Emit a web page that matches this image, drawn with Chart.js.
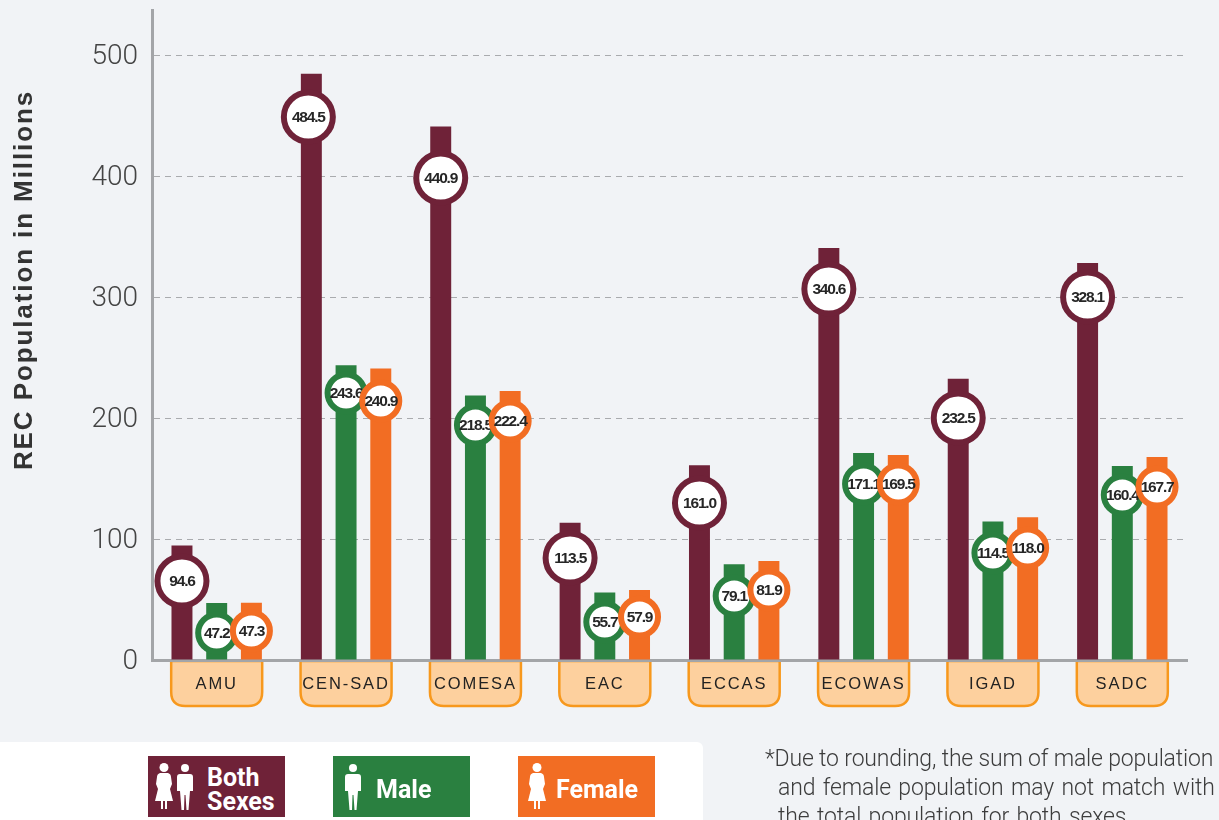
<!DOCTYPE html>
<html><head><meta charset="utf-8">
<style>
html,body{margin:0;padding:0;width:1219px;height:820px;overflow:hidden;background:#f1f3f6}
#wrap{position:relative;width:1219px;height:820px;overflow:hidden}
#panel{position:absolute;left:0;top:742px;width:703px;height:78px;background:#fff;border-top-right-radius:6px}
canvas{position:absolute;left:0;top:0}
.lg{position:absolute;top:756px;width:137px;height:61px;color:#fff;font-family:"Roboto";font-weight:700}
.lg svg{position:absolute;top:7px;height:47px;fill:#fff}
.lg span{position:absolute;white-space:nowrap;font-size:25px;line-height:24px}
.fn{position:absolute;font-family:"Roboto";font-weight:300;font-size:23px;color:#3c3c3c;white-space:nowrap;line-height:28px}
</style></head>
<body><div id="wrap">
<div id="panel"></div>
<canvas id="c" width="1219" height="820"></canvas>
<div class="lg" style="left:148px;background:#6f2238">
 <svg style="left:7px;width:18px" viewBox="0 0 18 47"><use href="#fem"/></svg>
 <svg style="left:28px;width:18px" viewBox="0 0 18 47"><use href="#mal"/></svg>
 <span style="left:59px;top:10px">Both<br>Sexes</span></div>
<div class="lg" style="left:333px;background:#2a8040">
 <svg style="left:11px;width:18px" viewBox="0 0 18 47"><use href="#mal"/></svg>
 <span style="left:43px;top:22px">Male</span></div>
<div class="lg" style="left:518px;background:#f26d23">
 <svg style="left:10px;width:18px" viewBox="0 0 18 47"><use href="#fem"/></svg>
 <span style="left:38px;top:22px">Female</span></div>
<div class="fn" style="left:765px;top:745px;letter-spacing:-.17px">*Due to rounding, the sum of male population</div>
<div class="fn" style="left:778px;top:774px;letter-spacing:-.15px;word-spacing:2px">and female population may not match with</div>
<div class="fn" style="left:778px;top:803px;letter-spacing:-.15px;word-spacing:2px">the total population for both sexes.</div>
<svg width="0" height="0" style="position:absolute"><defs>
 <g id="fem"><circle cx="9" cy="4.5" r="4.5"/><path d="M5 10h8q3 1 3 4l1 7-2 5 3 12h-6v8h-2v-8h-2v8H6v-8H0l3-12-2-5 1-7q0-3 3-4z"/></g>
 <g id="mal"><circle cx="9" cy="5" r="4"/><path d="M4 11h10q3 0 3 3v14h-3l-1.5 19h-2L9.500 32h-1L8 47H5.500L4 28H1V14q0-3 3-3z"/></g>
</defs></svg>
</div>
<script src="https://cdn.jsdelivr.net/npm/chart.js@4"></script>
<script>
const categories = ["AMU","CEN-SAD","COMESA","EAC","ECCAS","ECOWAS","IGAD","SADC"];
const bothSexes = [94.6,484.5,440.9,113.5,161.0,340.6,232.5,328.1];
const maleValues = [47.2,243.6,218.5,55.7,79.1,171.1,114.5,160.4];
const femaleValues = [47.3,240.9,222.4,57.9,81.9,169.5,118.0,167.7];
const yTicks = [0,100,200,300,400,500];
// axis height at which each value badge sits on its bar
const bothBadgeAt = [65.3,448.8,398.3,84.3,129.8,306.6,200,300];
const maleBadgeAt = [22.3,220.7,194.2,31.4,52.9,145.5,88.4,136.4];
const femaleBadgeAt = [24,214,197.5,35.5,57.9,145.5,92.6,143];
const bothBadgeShift = [0,-3,0,0,0,0,0,0];

const badgePlugin = {
  id:'badges',
  beforeDraw(chart){
    const {ctx,scales:{x,y}} = chart;
    ctx.save();
    categories.forEach((c,i)=>{
      const cx = x.getPixelForValue(i), w = 91, t = y.bottom+1, h = 45, r = 14, l = cx-w/2;
      ctx.beginPath();
      ctx.moveTo(l,t); ctx.lineTo(l,t+h-r);
      ctx.quadraticCurveTo(l,t+h,l+r,t+h);
      ctx.lineTo(l+w-r,t+h);
      ctx.quadraticCurveTo(l+w,t+h,l+w,t+h-r);
      ctx.lineTo(l+w,t); ctx.closePath();
      ctx.fillStyle='#fdd09e'; ctx.fill();
      ctx.lineWidth=2.5; ctx.strokeStyle='#f7981d'; ctx.stroke();
    });
    ctx.restore();
    if(!x._tracked){
      const orig = x.drawLabels;
      x.drawLabels = function(a){ctx.letterSpacing='1.9px';orig.call(this,a);ctx.letterSpacing='0px';};
      x._tracked = true;
    }
  },
  afterDatasetsDraw(chart){
    const {ctx,scales:{y}} = chart;
    const specs = [[0,bothBadgeAt,27.5,'#6f2238'],[1,maleBadgeAt,21.5,'#2a8040'],[2,femaleBadgeAt,21.5,'#f26d23']];
    ctx.save();
    specs.forEach(([d,at,r,col])=>{
      const meta = chart.getDatasetMeta(d), vals = chart.data.datasets[d].data;
      meta.data.forEach((bar,i)=>{
        const cx = bar.x + (d===0?bothBadgeShift[i]:0), cy = y.getPixelForValue(at[i]);
        ctx.beginPath(); ctx.arc(cx,cy,r-3,0,Math.PI*2);
        ctx.fillStyle='#fff'; ctx.fill();
        ctx.lineWidth=6; ctx.strokeStyle=col; ctx.stroke();
      });
      meta.data.forEach((bar,i)=>{
        const cx = bar.x + (d===0?bothBadgeShift[i]:0), cy = y.getPixelForValue(at[i]);
        ctx.fillStyle='#262626';
        ctx.font='bold 15.5px "Liberation Sans"';
        ctx.letterSpacing='-1.2px';
        ctx.textAlign='center'; ctx.textBaseline='middle';
        ctx.fillText(vals[i].toFixed(1),cx,cy+1);
      });
    });
    ctx.letterSpacing='0px';
    // vertical axis title
    ctx.translate(32,280); ctx.rotate(-Math.PI/2);
    ctx.fillStyle='#333'; ctx.font='bold 26px "Liberation Sans"';
    ctx.letterSpacing='1.9px';
    ctx.textAlign='center'; ctx.textBaseline='alphabetic';
    ctx.fillText(y.options.title.text,0,0);
    ctx.restore();
  }
};

new Chart(document.getElementById('c'),{
  type:'bar',
  data:{labels:categories,datasets:[
    {label:'Both Sexes',data:bothSexes,backgroundColor:'#6f2238'},
    {label:'Male',data:maleValues,backgroundColor:'#2a8040'},
    {label:'Female',data:femaleValues,backgroundColor:'#f26d23'}
  ]},
  options:{
    responsive:false,animation:false,
    layout:{padding:{top:10,right:32,left:0,bottom:0}},
    categoryPercentage:0.805,
    barPercentage:0.604,
    plugins:{legend:{display:false},tooltip:{enabled:false},title:{display:false}},
    scales:{
      x:{
        afterFit(s){s.height=160;s.paddingLeft=0;s.paddingRight=0;},
        grid:{display:false,drawTicks:false},
        border:{display:true,color:'#a3a5a8',width:3},
        ticks:{padding:15,color:'#222',font:{family:'"Liberation Sans"',size:16.5},maxRotation:0,autoSkip:false}
      },
      y:{
        min:0,max:537.2,
        title:{display:false,text:'REC Population in Millions'},
        afterFit(s){s.width=152;s.paddingTop=0;s.paddingBottom=0;},
        afterBuildTicks(s){s.ticks=yTicks.map(v=>({value:v}));},
        grid:{color:c=>c.tick&&c.tick.value===0?'transparent':'#a9abae',lineWidth:1,drawTicks:false},
        border:{display:true,color:'#a3a5a8',width:3,dash:[6,5]},
        ticks:{padding:14,labelOffset:2,color:'#444',font:{family:'"Roboto"',weight:'300',size:28}}
      }
    }
  },
  plugins:[badgePlugin]
});
</script>
</body></html>
